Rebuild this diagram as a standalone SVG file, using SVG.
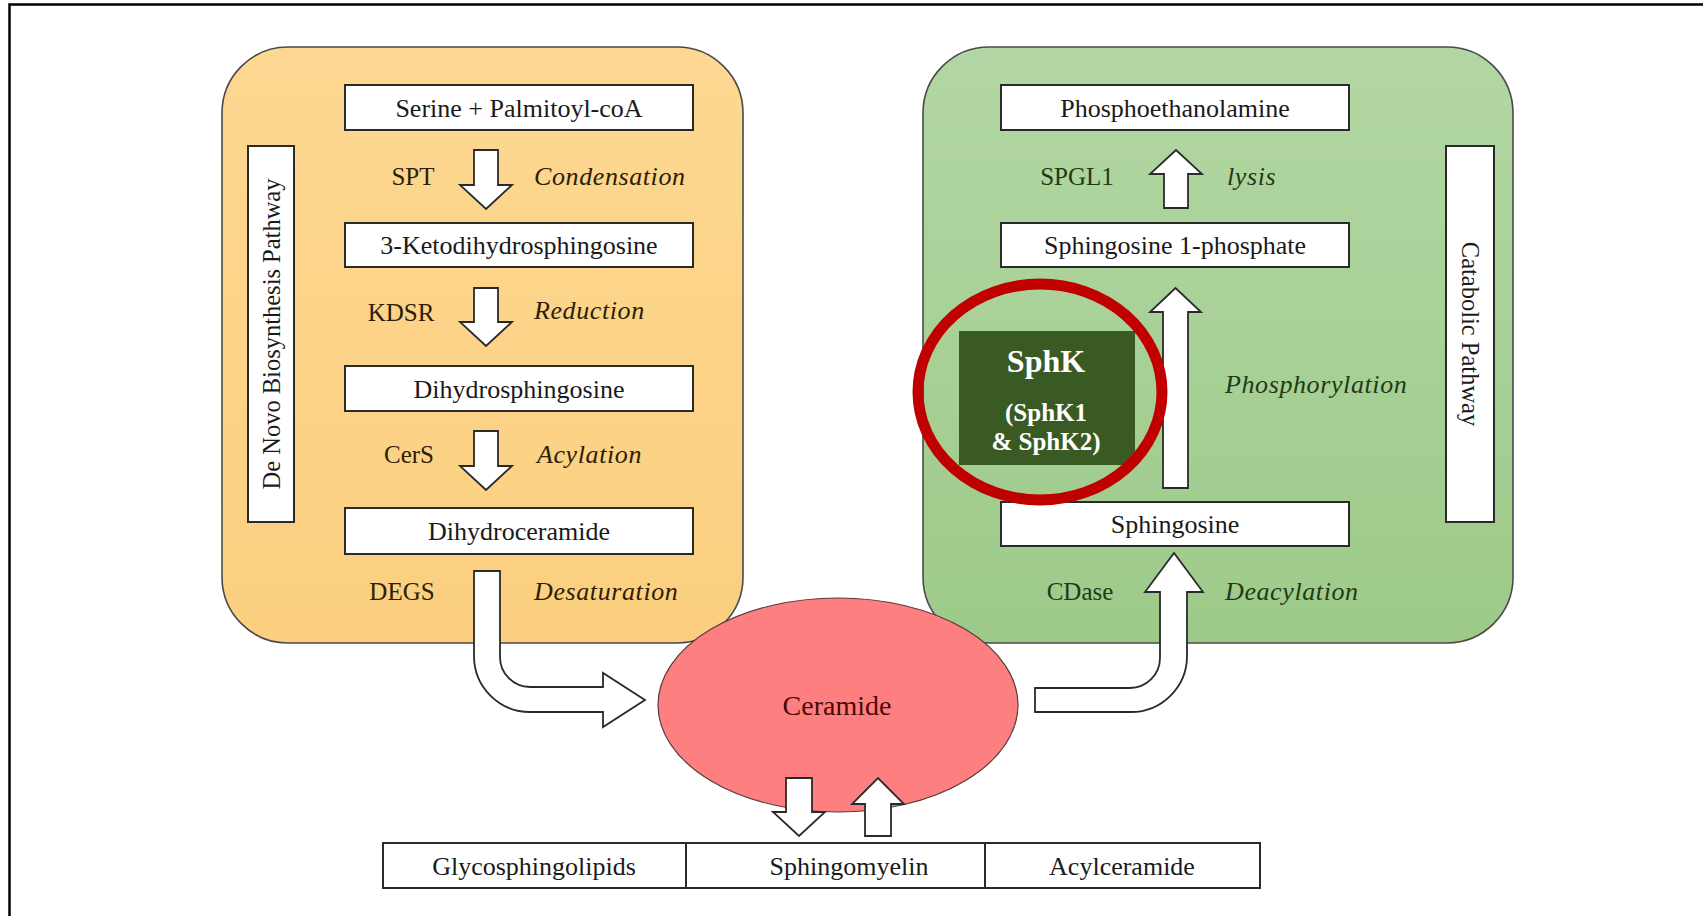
<svg xmlns="http://www.w3.org/2000/svg" width="1703" height="916" viewBox="0 0 1703 916">
<defs>
<linearGradient id="gOrange" x1="0" y1="0" x2="0" y2="1">
<stop offset="0" stop-color="#fdd892"/>
<stop offset="1" stop-color="#fbcf7f"/>
</linearGradient>
<linearGradient id="gGreen" x1="0" y1="0" x2="0" y2="1">
<stop offset="0" stop-color="#b3d7a4"/>
<stop offset="1" stop-color="#9dca89"/>
</linearGradient>
<style>
.panel{stroke:#4a4a4a;stroke-width:1.6}
.box{fill:#ffffff;stroke:#2a2a2a;stroke-width:2}
.arr{fill:#ffffff;stroke:#2a2a2a;stroke-width:1.8;stroke-linejoin:miter}
.t{font-family:"Liberation Serif","Times New Roman",serif;font-size:26px;fill:#1a1a1a;text-anchor:middle}
.lab{font-family:"Liberation Serif","Times New Roman",serif;font-size:25px;text-anchor:middle}
.it{font-family:"Liberation Serif","Times New Roman",serif;font-size:26px;font-style:italic;letter-spacing:0.6px}
.brown{fill:#2d2005}
.dg{fill:#1f3a15}
.vt{font-family:"Liberation Serif","Times New Roman",serif;font-size:24.5px;fill:#1a1a1a;text-anchor:middle}
.wb{font-family:"Liberation Serif","Times New Roman",serif;font-weight:bold;fill:#ffffff;text-anchor:middle}
</style>
</defs>
<rect x="0" y="0" width="1703" height="916" fill="#ffffff"/>
<rect x="9.5" y="4.5" width="1800" height="1000" fill="none" stroke="#000000" stroke-width="2.5"/>

<g id="denovo-panel">
<rect class="panel" x="222" y="47" width="521" height="596" rx="66" ry="66" fill="url(#gOrange)"/>
</g>
<g id="catabolic-panel">
<rect class="panel" x="923" y="47" width="590" height="596" rx="66" ry="66" fill="url(#gGreen)"/>
</g>

<g id="denovo-label">
<rect class="box" x="248" y="146" width="46" height="376"/>
<text class="vt" transform="translate(271 334) rotate(-90)" y="8.5">De Novo Biosynthesis Pathway</text>
</g>
<g id="catabolic-label">
<rect class="box" x="1446" y="146" width="48" height="376"/>
<text class="vt" transform="translate(1470 334) rotate(90)" y="8.5">Catabolic Pathway</text>
</g>

<g id="serine">
<rect class="box" x="345" y="85" width="348" height="45"/>
<text class="t" x="519" y="116.5">Serine + Palmitoyl-coA</text>
</g>
<g id="ketodihydrosphingosine">
<rect class="box" x="345" y="223" width="348" height="44"/>
<text class="t" x="519" y="254">3-Ketodihydrosphingosine</text>
</g>
<g id="dihydrosphingosine">
<rect class="box" x="345" y="366" width="348" height="45"/>
<text class="t" x="519" y="397.5">Dihydrosphingosine</text>
</g>
<g id="dihydroceramide">
<rect class="box" x="345" y="508" width="348" height="46"/>
<text class="t" x="519" y="540">Dihydroceramide</text>
</g>

<g id="phosphoethanolamine">
<rect class="box" x="1001" y="85" width="348" height="45"/>
<text class="t" x="1175" y="116.5">Phosphoethanolamine</text>
</g>
<g id="s1p">
<rect class="box" x="1001" y="223" width="348" height="44"/>
<text class="t" x="1175" y="254">Sphingosine 1-phosphate</text>
</g>
<g id="sphingosine">
<rect class="box" x="1001" y="502" width="348" height="44"/>
<text class="t" x="1175" y="533">Sphingosine</text>
</g>

<g id="bottom-row">
<rect class="box" x="383" y="843" width="877" height="45"/>
<line x1="686" y1="843" x2="686" y2="888" stroke="#2a2a2a" stroke-width="2"/>
<line x1="985" y1="843" x2="985" y2="888" stroke="#2a2a2a" stroke-width="2"/>
</g>
<g id="glycosphingolipids"><text class="t" x="534" y="875">Glycosphingolipids</text></g>
<g id="sphingomyelin"><text class="t" x="849" y="875">Sphingomyelin</text></g>
<g id="acylceramide"><text class="t" x="1122" y="875">Acylceramide</text></g>

<g id="connectors">
<polygon class="arr" points="474,150 498,150 498,185 512,185 486,209 460,185 474,185"/>
<polygon class="arr" points="474,288 498,288 498,322 512,322 486,346 460,322 474,322"/>
<polygon class="arr" points="474,431 498,431 498,466 512,466 486,490 460,466 474,466"/>
<polygon class="arr" points="1164,208 1188,208 1188,174 1202,174 1176,150 1150,174 1164,174"/>
<polygon class="arr" points="1163,488 1188,488 1188,312 1201,312 1175.5,288 1150,312 1163,312"/>
<path class="arr" d="M474 571 H500 V657 A30 30 0 0 0 530 687 H603 V673 L645 700 L603 727 V712 H530 A56 56 0 0 1 474 656 Z"/>
<path class="arr" d="M1035 688 H1130 A30 30 0 0 0 1160 658 V592 H1145 L1174 553 L1203 592 H1187 V656 A56 56 0 0 1 1131 712 H1035 Z"/>
</g>

<g id="ceramide">
<ellipse cx="838" cy="705" rx="180" ry="107" fill="#fe7f7f" stroke="#5a3a3a" stroke-width="1.2"/>
<text class="t" x="837" y="715" style="font-size:28px;fill:#4a0a0a">Ceramide</text>
</g>

<g id="connectors-bottom">
<polygon class="arr" points="786,778 812,778 812,812 825,812 799,836 773,812 786,812"/>
<polygon class="arr" points="865,836 891,836 891,804 904,804 878,778 852,804 865,804"/>
</g>

<g id="enzyme-labels">
<text class="lab brown" x="413" y="185">SPT</text>
<text class="it brown" x="534" y="185">Condensation</text>
<text class="lab brown" x="401" y="321">KDSR</text>
<text class="it brown" x="534" y="319">Reduction</text>
<text class="lab brown" x="409" y="463">CerS</text>
<text class="it brown" x="537" y="463">Acylation</text>
<text class="lab brown" x="402" y="600">DEGS</text>
<text class="it brown" x="534" y="600">Desaturation</text>
<text class="lab dg" x="1077" y="185">SPGL1</text>
<text class="it dg" x="1227" y="185">lysis</text>
<text class="it dg" x="1225" y="393">Phosphorylation</text>
<text class="lab dg" x="1080" y="600">CDase</text>
<text class="it dg" x="1225" y="600">Deacylation</text>
</g>

<g id="sphk">
<rect x="959" y="331" width="176" height="134" fill="#3a5a23"/>
<text class="wb" x="1046" y="372" style="font-size:32px">SphK</text>
<text class="wb" x="1046" y="421" style="font-size:25px">(SphK1</text>
<text class="wb" x="1046" y="450" style="font-size:25px">&amp; SphK2)</text>
<ellipse cx="1040" cy="392" rx="122" ry="108" fill="none" stroke="#c00000" stroke-width="11"/>
</g>
</svg>
